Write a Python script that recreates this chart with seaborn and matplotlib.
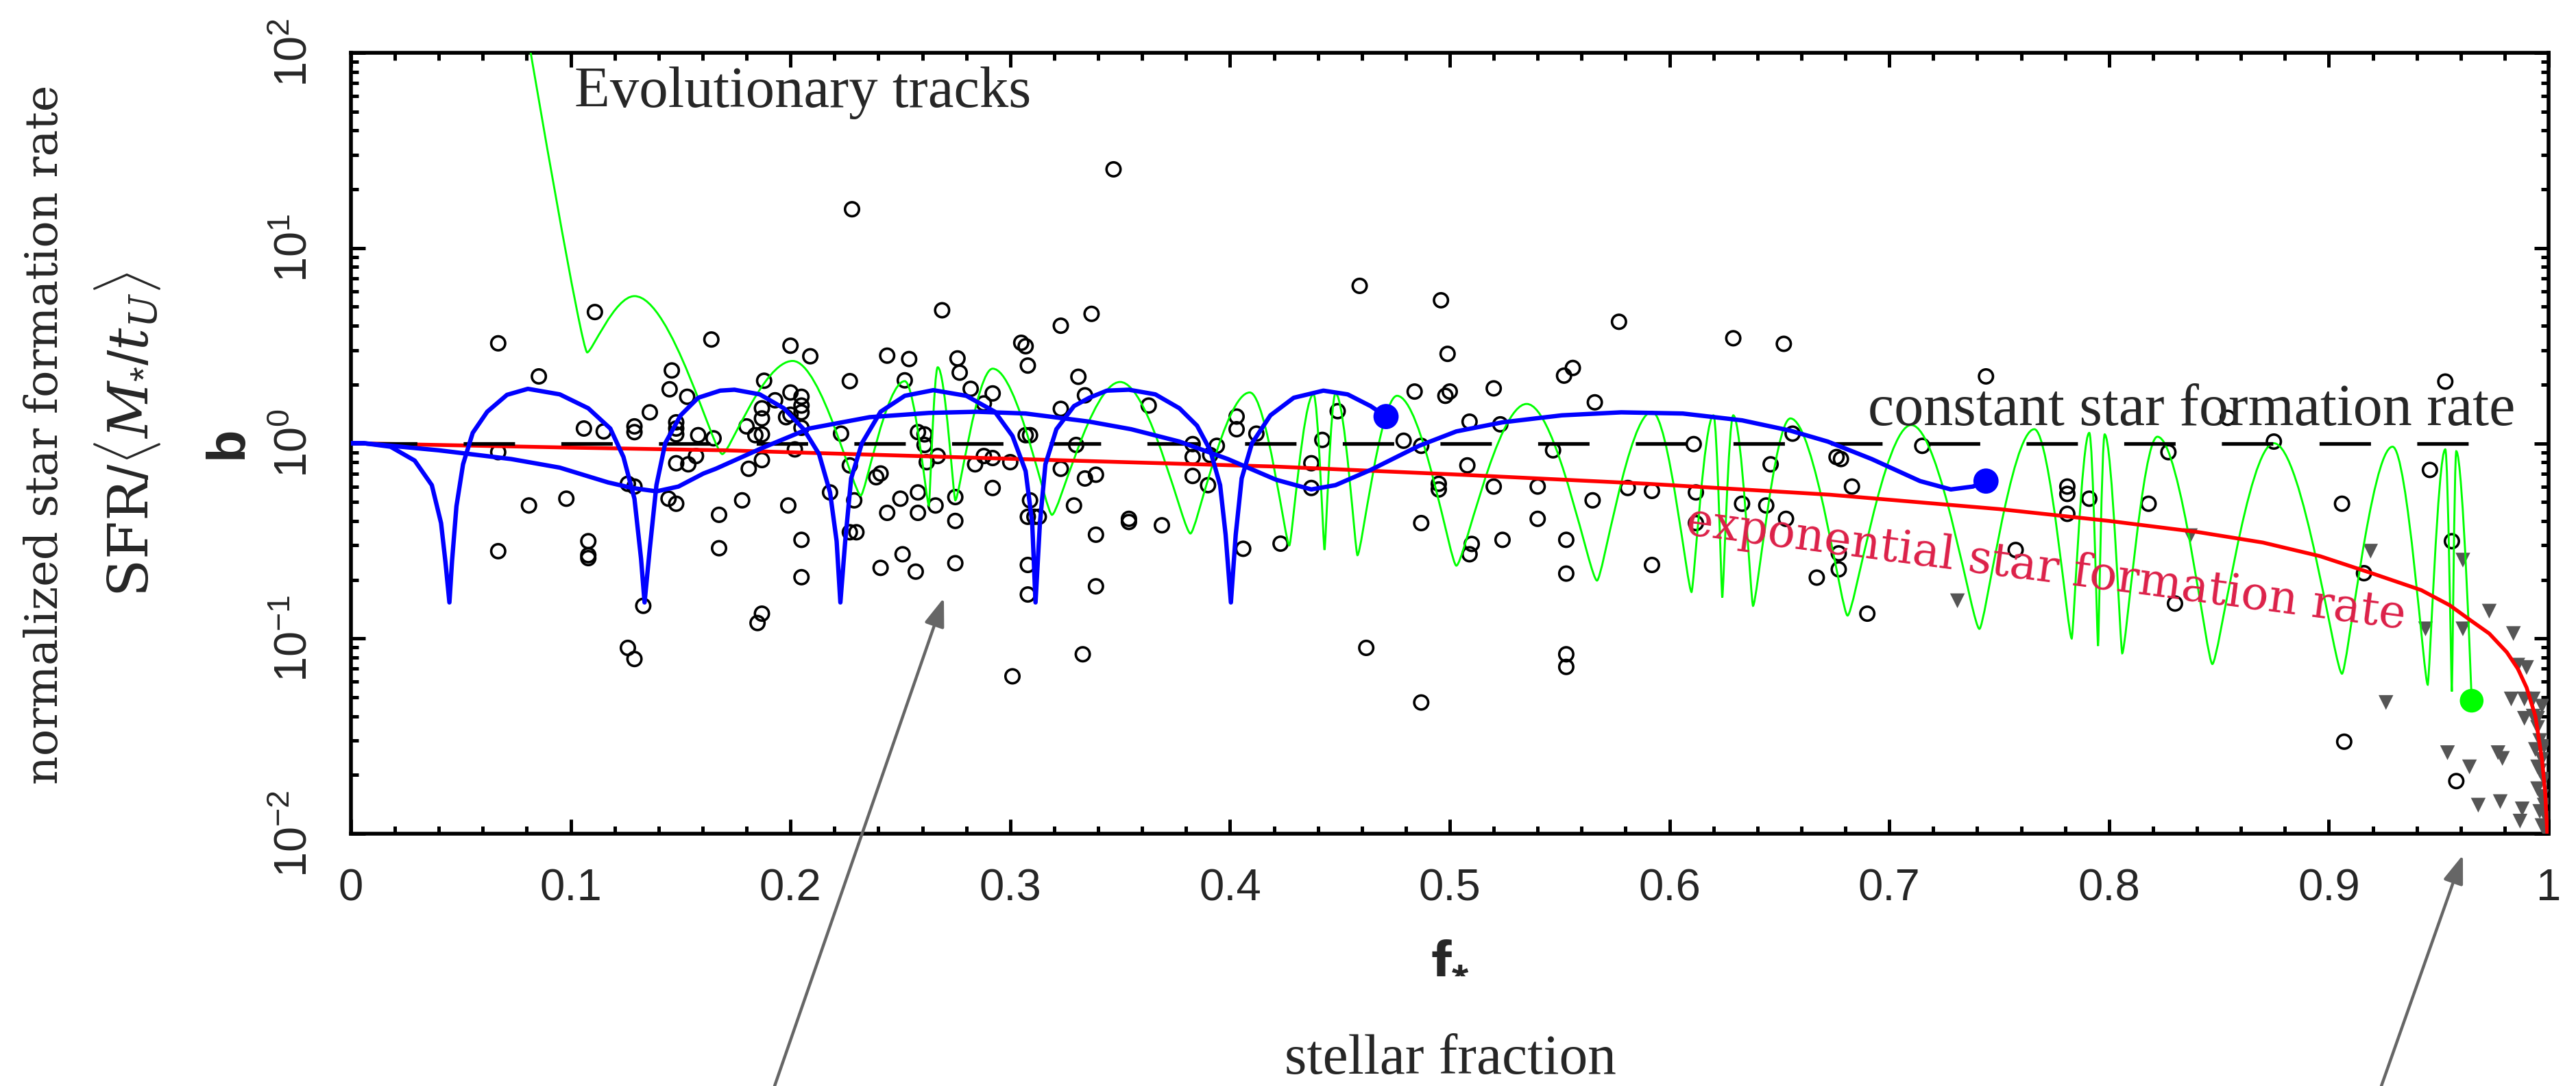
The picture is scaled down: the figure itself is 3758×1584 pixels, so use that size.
import numpy as np
import matplotlib
matplotlib.use("Agg")
import matplotlib.pyplot as plt
import seaborn as sns
from matplotlib.path import Path
from matplotlib.patches import PathPatch
from matplotlib.ticker import MultipleLocator, LogLocator, FixedLocator, FixedFormatter, NullFormatter

# ---------------- data ----------------
# open circles: galaxies (f_*, b)
circ_f = [0.111, 0.067, 0.164, 0.0855, 0.146, 0.145, 0.153, 0.136, 0.106, 0.115, 0.129, 0.129, 0.148, 0.148,
          0.148, 0.158, 0.165, 0.067, 0.148, 0.1535, 0.157, 0.126, 0.129, 0.098, 0.081, 0.1445, 0.148, 0.1675,
          0.067, 0.108, 0.108, 0.108, 0.1675, 0.133, 0.126, 0.129,
          0.269, 0.323, 0.337, 0.200, 0.209, 0.244, 0.254, 0.276, 0.277, 0.305, 0.307, 0.308, 0.331, 0.188,
          0.227, 0.252, 0.282, 0.292, 0.288, 0.334, 0.323, 0.200, 0.205, 0.205, 0.193, 0.187, 0.187, 0.200,
          0.198, 0.205, 0.205, 0.180, 0.184, 0.187, 0.223, 0.258, 0.261, 0.261, 0.307, 0.309, 0.330, 0.202,
          0.187, 0.181, 0.227, 0.241, 0.239, 0.262, 0.267, 0.284, 0.288, 0.292, 0.300, 0.323, 0.334, 0.218,
          0.229, 0.178, 0.199, 0.250, 0.258, 0.244, 0.258, 0.266, 0.275, 0.275, 0.292, 0.309, 0.308, 0.311,
          0.313, 0.329, 0.227, 0.230, 0.205, 0.251, 0.241, 0.257, 0.275, 0.308, 0.308, 0.339, 0.339, 0.205,
          0.187, 0.185, 0.333, 0.301,
          0.228, 0.347,
          0.459, 0.496, 0.499, 0.363, 0.403, 0.403, 0.412, 0.449, 0.484, 0.498, 0.500, 0.383, 0.394, 0.391,
          0.383, 0.442, 0.479, 0.487, 0.339, 0.383, 0.390, 0.437, 0.437, 0.495, 0.495, 0.354, 0.354, 0.369,
          0.406, 0.423, 0.487, 0.462, 0.487,
          0.577, 0.629, 0.652, 0.556, 0.552, 0.520, 0.566, 0.509, 0.523, 0.656, 0.611, 0.547, 0.508, 0.646,
          0.520, 0.540, 0.565, 0.581, 0.592, 0.612, 0.633, 0.644, 0.653, 0.612, 0.540, 0.524, 0.553, 0.510,
          0.509, 0.553, 0.592, 0.667, 0.553, 0.553,
          0.744, 0.715, 0.676, 0.678, 0.683, 0.781, 0.781, 0.791, 0.781, 0.818, 0.827, 0.677, 0.677, 0.7575,
          0.690, 0.830,
          0.854, 0.953, 0.875, 0.946, 0.906, 0.956, 0.916, 0.907, 0.958]
circ_b = [4.7, 3.25, 3.4, 2.2, 2.36, 1.89, 1.73, 1.44, 1.19, 1.15, 1.22, 1.14, 1.28, 1.19,
          1.11, 1.10, 1.06, 0.90, 0.79, 0.78, 0.86, 0.62, 0.60, 0.52, 0.48, 0.52, 0.49, 0.43,
          0.28, 0.315, 0.267, 0.258, 0.29, 0.147, 0.0895, 0.0785,
          4.8, 4.0, 4.6, 3.16, 2.79, 2.81, 2.7, 2.72, 2.3, 3.27, 3.14, 2.5, 2.19, 2.09,
          2.08, 2.1, 1.9, 1.8, 1.6, 1.76, 1.5, 1.82, 1.73, 1.56, 1.66, 1.51, 1.34, 1.40,
          1.36, 1.44, 1.2, 1.22, 1.10, 1.11, 1.12, 1.14, 1.11, 0.98, 1.10, 1.10, 0.98, 0.93,
          0.82, 0.74, 0.77, 0.70, 0.67, 0.80, 0.86, 0.78, 0.86, 0.84, 0.80, 0.74, 0.66, 0.56,
          0.51, 0.51, 0.48, 0.52, 0.56, 0.44, 0.44, 0.48, 0.53, 0.40, 0.59, 0.51, 0.42, 0.42,
          0.42, 0.48, 0.35, 0.35, 0.32, 0.27, 0.23, 0.22, 0.243, 0.238, 0.168, 0.34, 0.185, 0.206,
          0.134, 0.12, 0.083, 0.064,
          15.8, 25.3,
          6.4, 5.4, 2.87, 1.56, 1.37, 1.18, 1.12, 1.46, 1.84, 1.75, 1.84, 0.99, 0.97, 0.87,
          0.85, 1.04, 1.03, 0.97, 0.69, 0.68, 0.61, 0.79, 0.59, 0.62, 0.58, 0.41, 0.395, 0.38,
          0.288, 0.306, 0.39, 0.0895, 0.047,
          4.19, 3.45, 3.23, 2.43, 2.22, 1.91, 1.62, 1.29, 1.25, 1.12, 0.99, 0.92, 0.77, 0.78,
          0.60, 0.60, 0.51, 0.59, 0.57, 0.56, 0.49, 0.48, 0.41, 0.39, 0.41, 0.32, 0.32, 0.305,
          0.27, 0.215, 0.238, 0.205, 0.083, 0.0715,
          2.2, 0.97, 0.85, 0.83, 0.60, 0.60, 0.55, 0.52, 0.435, 0.49, 0.90, 0.273, 0.226, 0.284,
          0.134, 0.151,
          1.35, 2.07, 1.02, 0.73, 0.49, 0.315, 0.216, 0.0296, 0.0186]

# filled grey triangles: upper limits
tri_f = [0.731, 0.837, 0.919, 0.961, 0.973, 0.944, 0.961, 0.984, 0.986, 0.990, 0.926, 0.983, 0.989, 0.993,
         0.989, 0.995, 0.954, 0.977, 0.979, 0.964, 0.968, 0.978, 0.988, 0.987,
         0.995, 0.996, 0.994, 0.997, 0.996, 0.998, 0.995, 0.997, 0.998, 0.996, 0.999, 0.997, 0.998, 0.999,
         0.995, 0.998, 0.993, 0.997]
tri_b = [0.156, 0.336, 0.28, 0.252, 0.138, 0.112, 0.112, 0.106, 0.073, 0.071, 0.047, 0.049, 0.049, 0.049,
         0.039, 0.039, 0.026, 0.026, 0.0243, 0.022, 0.014, 0.0146, 0.0134, 0.0116,
         0.035, 0.030, 0.027, 0.024, 0.021, 0.019, 0.017, 0.0155, 0.014, 0.013, 0.012, 0.011, 0.0105, 0.0102,
         0.022, 0.028, 0.040, 0.045]

# exponential star formation rate (red)
exp_f = [0.0, 0.05, 0.10, 0.17, 0.25, 0.336, 0.42, 0.505, 0.59, 0.673, 0.75, 0.80, 0.841, 0.870, 0.896,
         0.920, 0.942, 0.955, 0.964, 0.973, 0.981, 0.986, 0.990, 0.994, 0.997, 0.9985, 0.9995]
exp_b = [1.0, 0.975, 0.95, 0.92, 0.865, 0.81, 0.76, 0.69, 0.62, 0.545, 0.46, 0.40, 0.35, 0.31, 0.264,
         0.215, 0.177, 0.148, 0.125, 0.106, 0.085, 0.070, 0.056, 0.040, 0.024, 0.016, 0.0095]

# constant star formation rate (dashed)
const_f = [0.0, 0.965]
const_b = [1.0, 1.0]

# evolutionary track, green: turning points (p = peak, v = valley, e = end)
green_f = [0.0818, 0.1075, 0.129, 0.169, 0.201, 0.232, 0.252, 0.263, 0.267, 0.275, 0.292, 0.319, 0.350,
           0.382, 0.409, 0.427, 0.438, 0.443, 0.448, 0.458, 0.476, 0.503, 0.535, 0.567, 0.592, 0.610,
           0.620, 0.624, 0.629, 0.638, 0.655, 0.681, 0.710, 0.741, 0.766, 0.783, 0.791, 0.795, 0.798,
           0.806, 0.822, 0.847, 0.875, 0.906, 0.929, 0.945, 0.953, 0.956, 0.958, 0.965]
green_b = [100.0, 2.92, 5.67, 0.88, 2.64, 0.54, 2.08, 0.48, 2.45, 0.51, 2.41, 0.43, 2.06,
           0.345, 1.82, 0.30, 1.78, 0.284, 1.80, 0.267, 1.75, 0.236, 1.59, 0.198, 1.45, 0.173,
           1.39, 0.162, 1.39, 0.147, 1.34, 0.131, 1.24, 0.112, 1.18, 0.100, 1.13, 0.0915, 1.11,
           0.084, 1.08, 0.074, 1.0, 0.066, 0.96, 0.058, 0.93, 0.0535, 0.91, 0.048]
green_kind = ["e"] + ["v", "p"] * 24 + ["e"]

# evolutionary track, blue (bursting)
blueA_f = [0.0, 0.006, 0.018, 0.029, 0.0368, 0.041, 0.043, 0.0448, 0.046, 0.048, 0.051, 0.0554, 0.062, 0.071,
           0.0805, 0.095, 0.108, 0.118, 0.124, 0.129, 0.132, 0.1336, 0.136, 0.139, 0.143, 0.150, 0.158,
           0.168, 0.1745, 0.186, 0.197, 0.206, 0.213, 0.218, 0.221, 0.2227, 0.2249, 0.2276, 0.2325, 0.241,
           0.252, 0.265, 0.280, 0.293, 0.301, 0.307, 0.310, 0.3115, 0.3135, 0.316, 0.321, 0.329, 0.336,
           0.344, 0.354, 0.366, 0.377, 0.385, 0.391, 0.3955, 0.398, 0.4004, 0.4026, 0.4053, 0.410, 0.4184,
           0.429, 0.4425, 0.4535, 0.464, 0.471]
blueA_b = [1.0, 1.0, 0.96, 0.815, 0.61, 0.39, 0.246, 0.153, 0.25, 0.476, 0.78, 1.13, 1.45, 1.77,
           1.9, 1.78, 1.51, 1.19, 0.85, 0.52, 0.256, 0.153, 0.29, 0.61, 1.0, 1.39, 1.71,
           1.86, 1.88, 1.78, 1.51, 1.18, 0.88, 0.56, 0.315, 0.153, 0.315, 0.66, 1.0, 1.45,
           1.75, 1.87, 1.75, 1.45, 1.09, 0.72, 0.39, 0.153, 0.39, 0.78, 1.18, 1.55, 1.71,
           1.86, 1.88, 1.78, 1.51, 1.23, 0.92, 0.61, 0.34, 0.153, 0.34, 0.66, 1.0, 1.39,
           1.71, 1.86, 1.78, 1.55, 1.37]
# evolutionary track, blue (smooth)
blueB_f = [0.0, 0.006, 0.040, 0.0729, 0.095, 0.117, 0.128, 0.139, 0.149, 0.1604, 0.166, 0.1866, 0.2085,
           0.236, 0.263, 0.285, 0.307, 0.336, 0.355, 0.377, 0.399, 0.421, 0.437, 0.448, 0.464, 0.486,
           0.503, 0.524, 0.551, 0.578, 0.606, 0.633, 0.655, 0.672, 0.692, 0.714, 0.728, 0.738, 0.744]
blueB_b = [1.0, 1.0, 0.92, 0.83, 0.75, 0.63, 0.59, 0.567, 0.60, 0.70, 0.74, 0.94, 1.19,
           1.36, 1.43, 1.45, 1.42, 1.29, 1.18, 1.02, 0.83, 0.65, 0.58, 0.61, 0.73, 0.97,
           1.15, 1.28, 1.39, 1.44, 1.42, 1.31, 1.16, 1.02, 0.83, 0.64, 0.58, 0.60, 0.64]
# end points of tracks
blue_end_f = [0.471, 0.744]
blue_end_b = [1.37, 0.64]
green_end_f = [0.965]
green_end_b = [0.048]

xtick_vals = [0.0, 0.1, 0.2, 0.3, 0.4, 0.5, 0.6, 0.7, 0.8, 0.9, 1.0]
xtick_labels = ["0", "0.1", "0.2", "0.3", "0.4", "0.5", "0.6", "0.7", "0.8", "0.9", "1"]
ytick_vals = [1e-2, 1e-1, 1e0, 1e1, 1e2]
ytick_labels = [r"$\mathdefault{10^{-2}}$", r"$\mathdefault{10^{-1}}$", r"$\mathdefault{10^{0}}$",
                r"$\mathdefault{10^{1}}$", r"$\mathdefault{10^{2}}$"]

# ---------------- style ----------------
sns.set_style("ticks")
plt.rcParams["font.family"] = ["Liberation Serif", "DejaVu Serif"]
plt.rcParams["mathtext.fontset"] = "custom"
plt.rcParams["mathtext.rm"] = "Liberation Sans"
plt.rcParams["mathtext.it"] = "DejaVu Serif:italic"
plt.rcParams["mathtext.bf"] = "Liberation Sans:bold"
plt.rcParams["mathtext.sf"] = "DejaVu Serif"
plt.rcParams["lines.scale_dashes"] = False

W, H, DPI = 3758, 1584, 200
fig = plt.figure(figsize=(W / DPI, H / DPI), dpi=DPI)
fig.patch.set_facecolor("white")
L, R, T, B = 512, 3718, 77, 1216
ax = fig.add_axes([L / W, 1 - B / H, (R - L) / W, (B - T) / H])
ax.set_facecolor("white")
ax.set_yscale("log")

# scatter points
sns.scatterplot(x=circ_f, y=circ_b, ax=ax, marker="o", s=54, facecolor="none",
                edgecolor="black", linewidth=1.3, zorder=3, legend=False)
sns.scatterplot(x=tri_f, y=tri_b, ax=ax, marker="v", s=60, color="#555555",
                edgecolor="none", linewidth=0, zorder=3, legend=False)

# green evolutionary track drawn as smooth curve through its turning points
gx = np.array(green_f)
gy = np.log10(np.array(green_b))
hk = {"p": 0.42, "v": 0.10, "e": 0.0}
verts = [(gx[0], 10 ** gy[0])]
codes = [Path.MOVETO]
for i in range(len(gx) - 1):
    dx = gx[i + 1] - gx[i]
    c1 = (gx[i] + hk[green_kind[i]] * dx, 10 ** gy[i])
    c2 = (gx[i + 1] - hk[green_kind[i + 1]] * dx, 10 ** gy[i + 1])
    verts += [c1, c2, (gx[i + 1], 10 ** gy[i + 1])]
    codes += [Path.CURVE4] * 3
ax.add_patch(PathPatch(Path(verts, codes), fill=False, edgecolor="#00ff00", lw=1.05, zorder=4))

# model lines
sns.lineplot(x=exp_f, y=exp_b, ax=ax, color="#ff0000", linewidth=2.0, sort=False,
             estimator=None, zorder=5, legend=False)
ax.plot(const_f, const_b, color="black", linewidth=1.9,
        linestyle=(43.6, (27.0, 24.3)), zorder=5, solid_capstyle="butt", dash_capstyle="butt")
sns.lineplot(x=blueA_f, y=blueA_b, ax=ax, color="#0000ff", linewidth=2.3, sort=False,
             estimator=None, zorder=6, legend=False)
sns.lineplot(x=blueB_f, y=blueB_b, ax=ax, color="#0000ff", linewidth=2.3, sort=False,
             estimator=None, zorder=6, legend=False)
sns.scatterplot(x=blue_end_f, y=blue_end_b, ax=ax, s=175, color="#0000ff", edgecolor="none",
                zorder=7, legend=False)
sns.scatterplot(x=green_end_f, y=green_end_b, ax=ax, s=155, color="#00ff00", edgecolor="none",
                zorder=7, legend=False)

# axes
ax.set_xlim(0, 1)
ax.set_ylim(1e-2, 1e2)
ax.set_xlabel("")
ax.set_ylabel("")
ax.xaxis.set_major_locator(FixedLocator(xtick_vals))
ax.xaxis.set_major_formatter(FixedFormatter(xtick_labels))
ax.xaxis.set_minor_locator(MultipleLocator(0.02))
ax.yaxis.set_major_locator(FixedLocator(ytick_vals))
ax.yaxis.set_major_formatter(FixedFormatter(ytick_labels))
ax.yaxis.set_minor_locator(LogLocator(base=10, subs=np.arange(2, 10), numticks=20))
ax.yaxis.set_minor_formatter(NullFormatter())
for sp in ax.spines.values():
    sp.set_visible(True)
    sp.set_linewidth(2.0)
    sp.set_color("black")
ax.tick_params(which="both", direction="in", top=True, right=True, width=1.8, color="black")
ax.tick_params(which="major", length=7.5)
ax.tick_params(which="minor", length=3.8)
ax.tick_params(axis="x", which="major", pad=18, labelsize=23.5)
ax.tick_params(axis="y", which="major", pad=18, labelsize=24, labelrotation=90)
for lab in ax.get_xticklabels():
    lab.set_family("Liberation Sans")
for lab in ax.get_yticklabels():
    lab.set_verticalalignment("center")
    lab.set_family("Liberation Sans")

# texts inside the panel
fig.text(838 / W, 1 - 156 / H, "Evolutionary tracks", fontsize=30.5, family="Liberation Serif",
         ha="left", va="baseline", zorder=10)
fig.text(2725 / W, 1 - 620 / H, "constant star formation rate", fontsize=31, family="Liberation Serif",
         ha="left", va="baseline", zorder=10)
fig.text(2458 / W, 1 - 779 / H, "exponential star formation rate", fontsize=24,
         family="DejaVu Serif", color="#dc2048", ha="left", va="baseline",
         rotation=-7.5, rotation_mode="anchor", zorder=10)

# axis labels
fig.text(0.5628, 1 - 1400 / H, r"$\mathbf{f_{*}}$", fontsize=32, ha="center", va="center")
fig.text(0.5631, 1 - 1566 / H, "stellar fraction", fontsize=30, family="Liberation Serif",
         ha="center", va="baseline")
fig.text(66 / W, 1 - 634 / H, "normalized star formation rate", fontsize=23.5,
         family="DejaVu Serif", rotation=90, ha="center", va="center")
fig.text(186 / W, 1 - 634 / H, r"$\mathsf{SFR}/\langle M_{*}/t_{U}\rangle$", fontsize=29,
         rotation=90, ha="center", va="center")
fig.text(332 / W, 1 - 645 / H, "b", fontsize=28, family="Liberation Sans", fontweight="bold",
         rotation=90, ha="center", va="center")

# pointer arrows
arrow_kw = dict(arrowstyle="-|>,head_length=0.45,head_width=0.16", mutation_scale=28,
                color="#666666", lw=1.6, shrinkA=0, shrinkB=0)
ax.annotate("", xy=(1377 / W, 1 - 872 / H), xycoords="figure fraction",
            xytext=(1130 / W, 0.0), textcoords="figure fraction",
            arrowprops=arrow_kw, annotation_clip=False, zorder=9)
ax.annotate("", xy=(3593 / W, 1 - 1247 / H), xycoords="figure fraction",
            xytext=(3474 / W, 0.0), textcoords="figure fraction",
            arrowprops=arrow_kw, annotation_clip=False, zorder=9)

fig.savefig("out.png", dpi=DPI, facecolor="white")
